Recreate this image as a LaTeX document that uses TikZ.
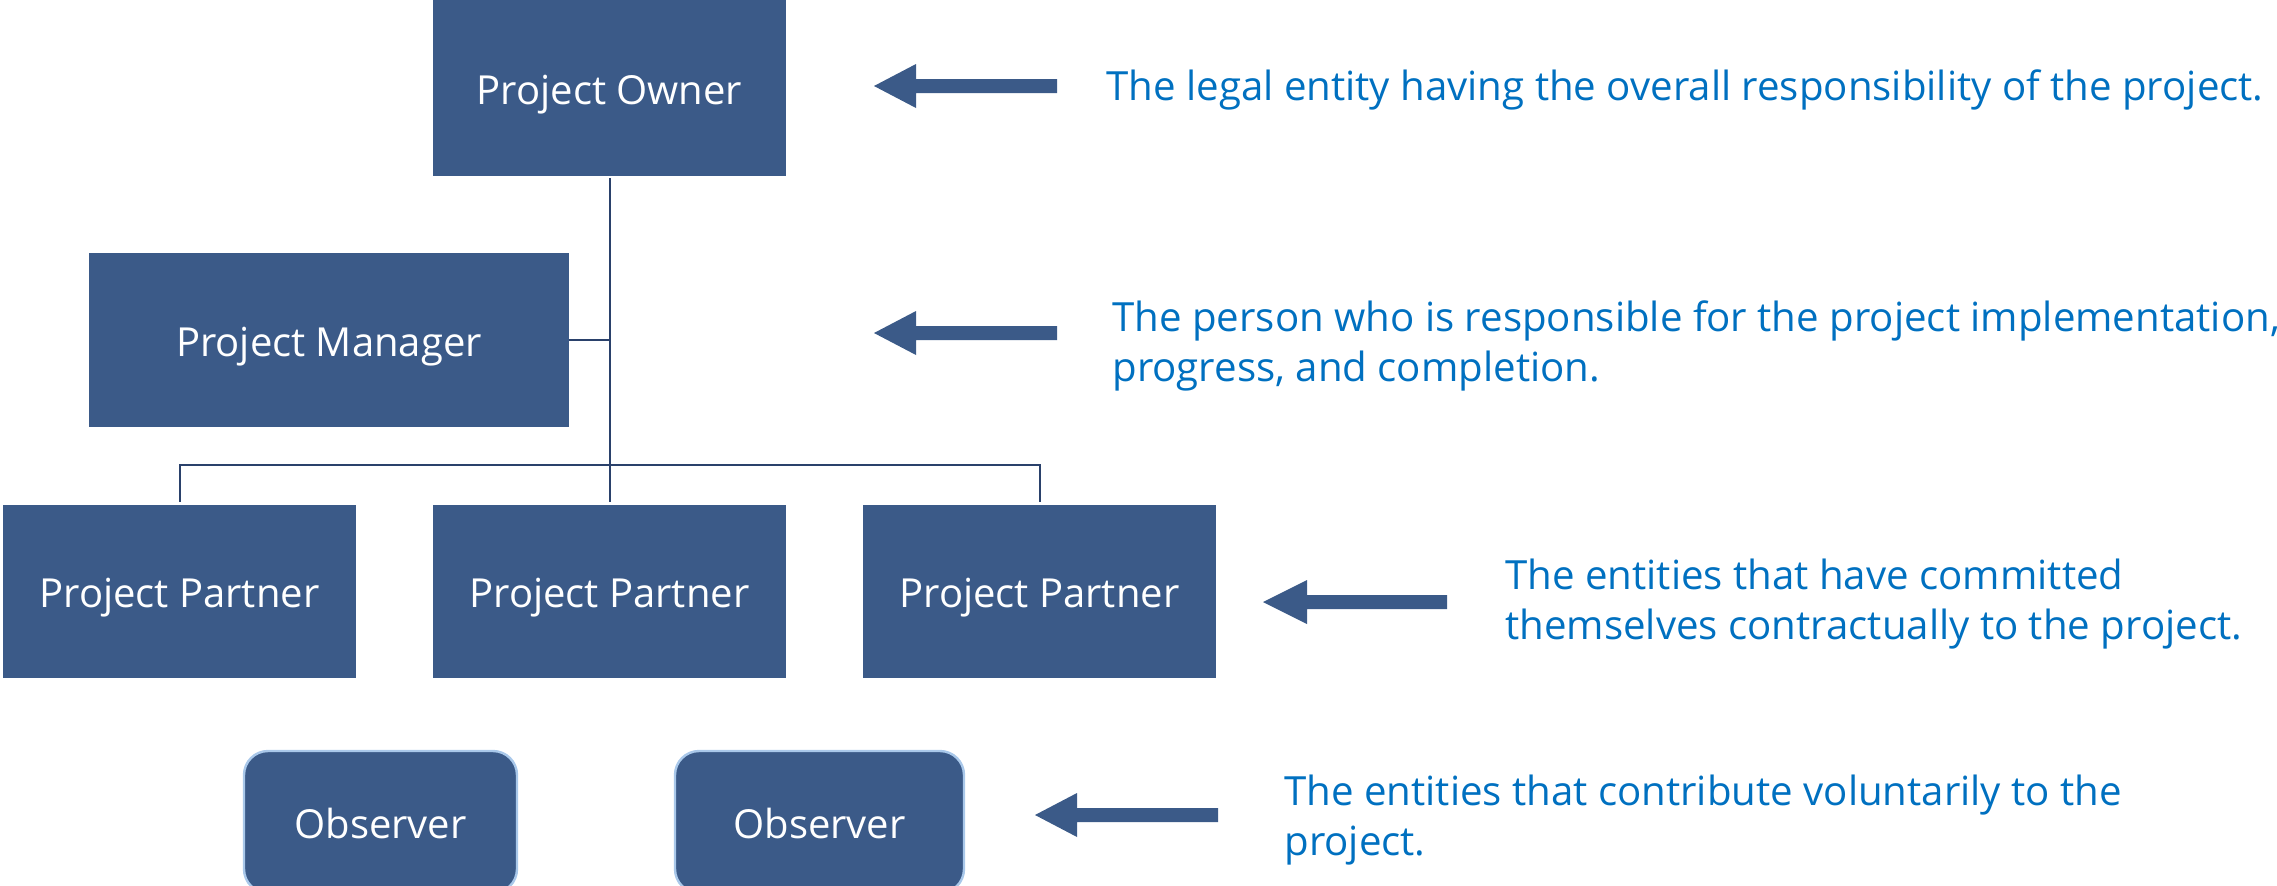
\documentclass[tikz,border=0pt]{standalone}
\usepackage{fontspec}
\setmainfont{Open Sans}
\definecolor{boxc}{HTML}{3B5A88}
\definecolor{linec}{HTML}{2A416B}
\definecolor{txtc}{HTML}{0070C0}
\definecolor{obsb}{HTML}{A9C8EA}
\begin{document}
\begin{tikzpicture}[x=0.5pt,y=-0.5pt,
  orgbox/.style={fill=boxc, text=white, inner sep=0pt, text height=20pt, text depth=4pt, font=\fontsize{20}{24}\selectfont},
  obsbox/.style={orgbox, draw=obsb, line width=1.2pt, rounded corners=12pt},
  conn/.style={draw=linec, line width=1pt},
  desc/.style={anchor=west, inner sep=0pt, text=txtc, align=left, font=\fontsize{20.1}{25}\selectfont},
  barrow/.style={fill=boxc}]
\useasboundingbox (0,0) rectangle (2277,885);
% boxes
\node[orgbox, minimum width=176.5pt, minimum height=88pt] (own) at (609.5,88) {Project Owner};
\node[orgbox, minimum width=240pt, minimum height=87pt] (mgr) at (329,340) {Project Manager};
\node[orgbox, minimum width=176.5pt, minimum height=86.5pt] (p1) at (179.5,591.5) {Project Partner};
\node[orgbox, minimum width=176.5pt, minimum height=86.5pt] (p2) at (609.5,591.5) {Project Partner};
\node[orgbox, minimum width=176.5pt, minimum height=86.5pt] (p3) at (1039.5,591.5) {Project Partner};
\node[obsbox, minimum width=136.5pt, minimum height=71pt] (o1) at (380.5,822) {Observer};
\node[obsbox, minimum width=144.5pt, minimum height=71pt] (o2) at (819.5,822) {Observer};
% connectors
\coordinate (bus) at (609.5,465);
\draw[conn] ([yshift=-1pt]own.south) -- ([yshift=1.5pt]p2.north);
\draw[conn] (mgr.east) -- (mgr.east -| own.south);
\draw[conn] ([yshift=1.5pt]p1.north) |- (bus) -| ([yshift=1.5pt]p3.north);
% block arrows
\fill[barrow] (874,86) -- ++(42,-22) -- ++(0,15) -- ++(141,0) -- ++(0,14) -- ++(-141,0) -- ++(0,15) -- cycle;
\fill[barrow] (874,333) -- ++(42,-22) -- ++(0,15) -- ++(141,0) -- ++(0,14) -- ++(-141,0) -- ++(0,15) -- cycle;
\fill[barrow] (1263,602) -- ++(44,-22) -- ++(0,15) -- ++(140,0) -- ++(0,14) -- ++(-140,0) -- ++(0,15) -- cycle;
\fill[barrow] (1035,815) -- ++(42,-22) -- ++(0,15) -- ++(141,0) -- ++(0,14) -- ++(-141,0) -- ++(0,15) -- cycle;
% descriptions
\node[desc] (d1) at (1106,90) {The legal entity having the overall responsibility of the project.};
\node[desc] (d2) at (1112,346) {The person who is responsible for the project implementation,\\progress, and completion.};
\node[desc] (d3) at (1505,604) {The entities that have committed\\themselves contractually to the project.};
\node[desc] (d4) at (1284,820) {The entities that contribute voluntarily to the\\project.};
\end{tikzpicture}
\end{document}
